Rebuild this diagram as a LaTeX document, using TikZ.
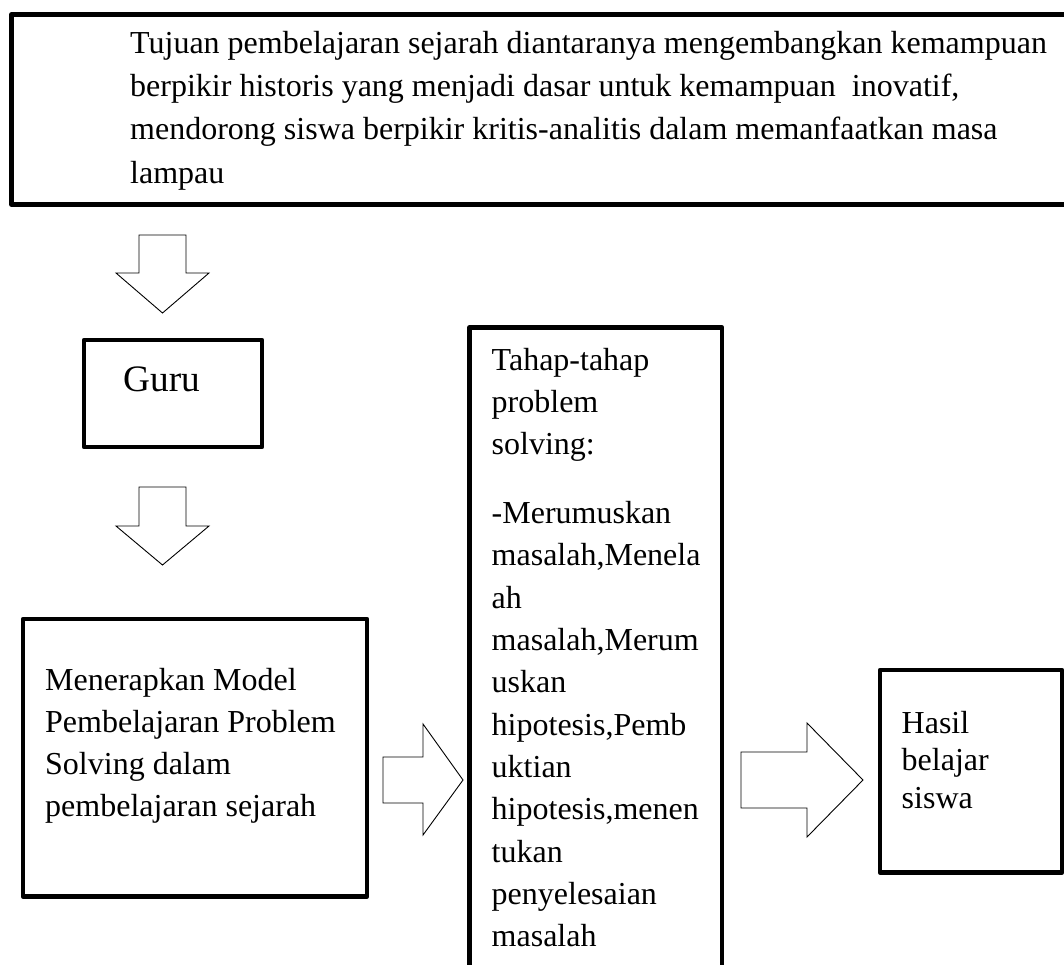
\documentclass[tikz,border=0pt]{standalone}
\usepackage{fontspec}
\setmainfont{Liberation Serif}
\begin{document}
\begin{tikzpicture}[x=1pt,y=-1pt,
  box/.style={draw=black,line width=4.6pt,line join=round},
  blockarrow/.style={draw=black,line width=0.9pt,fill=white,line join=miter},
  txt/.style={anchor=base west,inner sep=0pt,align=flush left,text width=#1},
  body/.style={font=\fontsize{32}{42.3}\selectfont},
]
\useasboundingbox (0,0) rectangle (1064,965);

% boxes
\draw[box] (1075,14.5) -- (11.5,14.5) -- (11.5,204.5) -- (1075,204.5);
\draw[box] (84,340) rectangle (262,447);
\draw[box] (23,619) rectangle (367,896.5);
\draw[box] (469.5,975) -- (469.5,327.5) -- (722,327.5) -- (722,975);
\draw[box] (1062,670) rectangle (880,872.5);

% texts
\node[txt=1000pt, font=\fontsize{32}{43.3}\selectfont] (goal) at (130,53.3)
 {Tujuan pembelajaran sejarah diantaranya mengembangkan kemampuan\\
  berpikir historis yang menjadi dasar untuk kemampuan \ inovatif,\\
  mendorong siswa berpikir kritis-analitis dalam memanfaatkan masa\\
  lampau};
\node[txt=150pt, font=\fontsize{37.3}{44}\selectfont] (guru) at (123,391.7) {Guru};
\node[txt=320pt, body] (model) at (45,690)
 {Menerapkan Model\\
  Pembelajaran Problem\\
  Solving dalam\\
  pembelajaran sejarah};
\node[txt=230pt, body] (tahap) at (491.5,370)
 {Tahap-tahap\\
  problem\\
  solving:\\[26.7pt]
  -Merumuskan\\
  masalah,Menela\\
  ah\\
  masalah,Merum\\
  uskan\\
  hipotesis,Pemb\\
  uktian\\
  hipotesis,menen\\
  tukan\\
  penyelesaian\\
  masalah};
\node[txt=160pt, font=\fontsize{32}{37.5}\selectfont] (hasil) at (901.5,733)
 {Hasil\\
  belajar\\
  siswa};

% block arrows
\draw[blockarrow] (139,235) -- (186,235) -- (186,273) -- (209,273) -- (162.5,313)
  -- (116,273) -- (139,273) -- cycle;
\draw[blockarrow] (139,487) -- (186,487) -- (186,526) -- (209,526) -- (162.5,565)
  -- (116,526) -- (139,526) -- cycle;
\draw[blockarrow] (383,757) -- (423,757) -- (423,724) -- (463,780) -- (423,835)
  -- (423,803) -- (383,803) -- cycle;
\draw[blockarrow] (741,752) -- (807,752) -- (807,723) -- (863,780) -- (807,837)
  -- (807,808) -- (741,808) -- cycle;
\end{tikzpicture}
\end{document}
